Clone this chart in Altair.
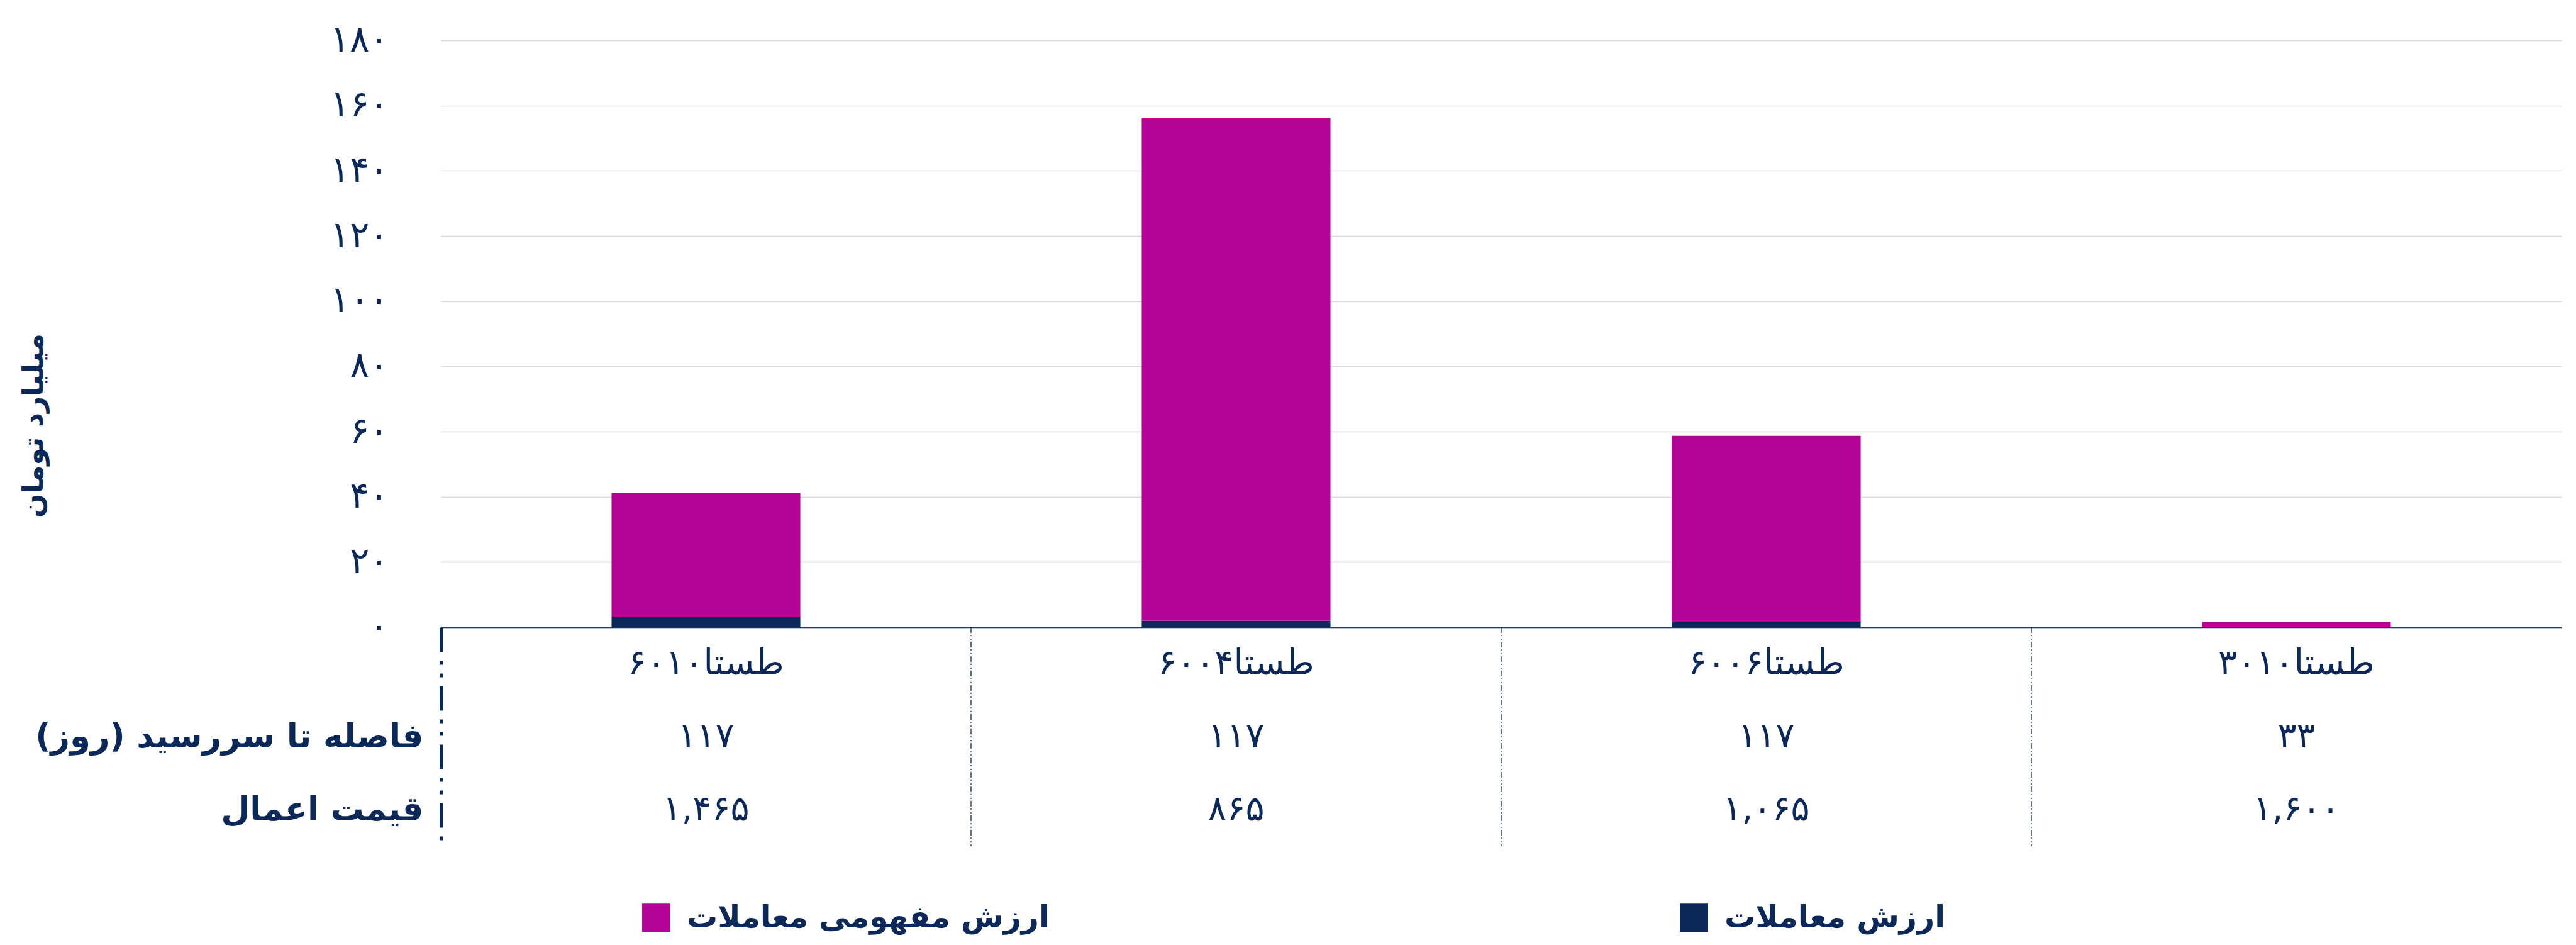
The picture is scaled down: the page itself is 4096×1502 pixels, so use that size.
import json
import altair as alt
import pandas as pd

# ---------------- data ----------------
categories = ["طستا۶۰۱۰", "طستا۶۰۰۴", "طستا۶۰۰۶", "طستا۳۰۱۰"]
series_names = ["ارزش مفهومی معاملات", "ارزش معاملات"]
traded_value = [3.3, 2.0, 1.7, 0.1]            # ارزش معاملات (bottom segment)
notional_value = [37.8, 154.1, 57.0, 1.5]      # ارزش مفهومی معاملات (upper segment)
days_to_maturity = ["۱۱۷", "۱۱۷", "۱۱۷", "۳۳"]
strike_price = ["۱,۴۶۵", "۸۶۵", "۱,۰۶۵", "۱,۶۰۰"]
row_headers = ["", "\u200fفاصله تا سررسید (روز)\u200f", "قیمت اعمال"]
y_ticks = [0, 20, 40, 60, 80, 100, 120, 140, 160, 180]
y_tick_labels = ["۰", "۲۰", "۴۰", "۶۰", "۸۰", "۱۰۰", "۱۲۰", "۱۴۰", "۱۶۰", "۱۸۰"]
y_title = "میلیارد تومان"

# ---------------- style ----------------
FONT = "DejaVu Sans"
NAVY = "#0B2858"
MAGENTA = "#B50397"
W = 3372
H_TOP = 933
H_TABLE = 348

bar_rows = []
for i, c in enumerate(categories):
    bar_rows.append({"category": c, "series": series_names[1], "value": traded_value[i], "order": 0})
    bar_rows.append({"category": c, "series": series_names[0], "value": notional_value[i], "order": 1})
bar_df = pd.DataFrame(bar_rows)

table_rows = []
for i, c in enumerate(categories):
    table_rows.append({"category": c, "row": 0, "text": c})
    table_rows.append({"category": c, "row": 1, "text": days_to_maturity[i]})
    table_rows.append({"category": c, "row": 2, "text": strike_price[i]})
table_df = pd.DataFrame(table_rows)

divider_df = pd.DataFrame({"category": categories[1:]})

y_label_expr = " : ".join(
    f"datum.value == {v} ? '{lab}'" for v, lab in zip(y_ticks, y_tick_labels)
) + " : datum.label"
row_label_expr = json.dumps(row_headers, ensure_ascii=False) + "[datum.value]"

top = alt.Chart(bar_df).mark_bar().encode(
    x=alt.X(
        "category:N", sort=categories,
        scale=alt.Scale(paddingInner=0.644, paddingOuter=0.322),
        axis=alt.Axis(labels=False, ticks=False, title=None, grid=False,
                      domain=True, domainColor="#1F3B6E", domainWidth=1.6, zindex=1),
    ),
    y=alt.Y(
        "value:Q", stack="zero",
        scale=alt.Scale(domain=[0, 180], nice=False),
        axis=alt.Axis(
            values=y_ticks, labelExpr=y_label_expr, domain=False, ticks=False,
            grid=True, gridColor="#D9D9D9", gridWidth=1.3,
            labelFont=FONT, labelFontSize=58, labelColor=NAVY, labelPadding=83,
            title=y_title, titleFont=FONT, titleFontSize=45, titleFontWeight="bold",
            titleColor=NAVY, titleAngle=270, titleX=-648, titleY=612,
            titleAlign="center", titleBaseline="middle",
        ),
    ),
    color=alt.Color(
        "series:N",
        scale=alt.Scale(domain=series_names, range=[MAGENTA, NAVY]),
        legend=alt.Legend(
            title=None, orient="none", legendX=318, legendY=1370,
            direction="horizontal", symbolType="square", symbolSize=2025,
            symbolStrokeWidth=0, symbolOpacity=1, labelFont=FONT,
            labelFontWeight="bold", labelFontSize=49, labelColor=NAVY,
            labelOffset=24, columnPadding=1000, padding=0, labelLimit=3000,
        ),
    ),
    order=alt.Order("order:Q", sort="ascending"),
).properties(width=W, height=H_TOP)

table_text = alt.Chart(table_df).mark_text(
    font=FONT, fontSize=56, color=NAVY, baseline="middle", align="center"
).encode(
    x=alt.X("category:N", sort=categories,
            scale=alt.Scale(type="point", domain=categories, padding=0.5), axis=None),
    y=alt.Y(
        "row:O",
        scale=alt.Scale(type="point", domain=[0, 1, 2], padding=0.5),
        axis=alt.Axis(
            title=None, ticks=False, grid=False, labelExpr=row_label_expr,
            labelFont=FONT, labelFontWeight="bold", labelFontSize=53,
            labelColor=NAVY, labelPadding=28, labelLimit=3000,
            domain=True, domainColor=NAVY, domainWidth=5,
            domainDash=[39, 14, 6, 14, 6, 14],
        ),
    ),
    text="text:N",
)

dividers = alt.Chart(divider_df).mark_rule(
    color=NAVY, strokeWidth=1.3, strokeDash=[9, 3, 2, 4, 2, 3]
).encode(
    x=alt.X("category:N", bandPosition=0,
            scale=alt.Scale(type="band", domain=categories, paddingInner=0, paddingOuter=0),
            axis=None),
)

table = alt.layer(dividers, table_text).resolve_scale(x="independent").properties(
    width=W, height=H_TABLE
)

chart = alt.vconcat(top, table, spacing=0, bounds="flush").properties(
    padding={"left": 23, "top": 27, "right": 5, "bottom": 5}
).configure(font=FONT).configure_view(stroke=None, strokeWidth=0)

chart.save("out.html", embed_options={"renderer": "svg", "actions": False})
